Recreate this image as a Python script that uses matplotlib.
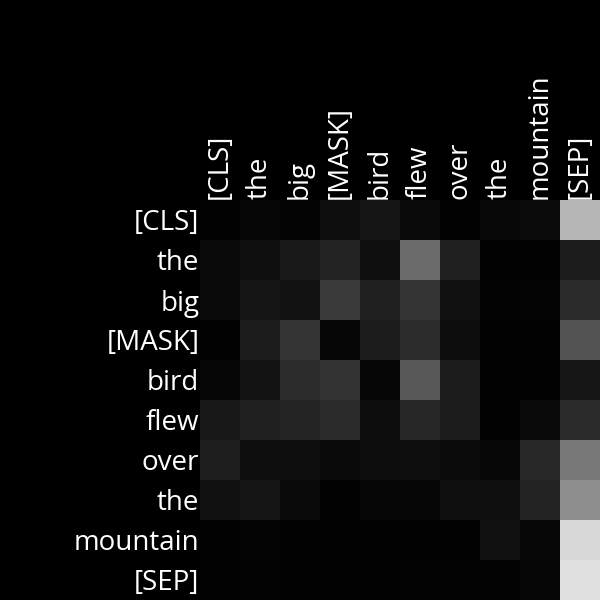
import numpy as np
import matplotlib
matplotlib.use("Agg")
import matplotlib.pyplot as plt

tokens = ["[CLS]", "the", "big", "[MASK]", "bird", "flew", "over", "the", "mountain", "[SEP]"]

# attention intensities (0-255 gray levels), row = query, col = key
row_cls      = [1, 6, 4, 14, 20, 10, 2, 8, 11, 181]
row_the      = [10, 15, 25, 34, 15, 108, 32, 1, 2, 28]
row_big      = [10, 20, 18, 58, 33, 53, 16, 3, 4, 42]
row_mask     = [1, 27, 52, 6, 28, 44, 12, 1, 1, 83]
row_bird     = [6, 19, 45, 51, 6, 88, 27, 1, 2, 22]
row_flew     = [23, 32, 37, 43, 13, 39, 28, 1, 9, 43]
row_over     = [30, 14, 14, 10, 13, 14, 11, 7, 41, 120]
row_the2     = [17, 20, 10, 1, 6, 6, 15, 15, 34, 142]
row_mountain = [1, 4, 2, 1, 1, 1, 1, 17, 7, 216]
row_sep      = [2, 3, 2, 1, 2, 3, 3, 3, 5, 224]

attn = np.array([row_cls, row_the, row_big, row_mask, row_bird, row_flew,
                 row_over, row_the2, row_mountain, row_sep]) / 255.0

plt.rcParams['font.family'] = ['Open Sans', 'DejaVu Sans']
fig = plt.figure(figsize=(6, 6), dpi=100, facecolor='black')
ax = fig.add_axes([1/3, 0, 2/3, 2/3])
ax.set_facecolor('black')
ax.imshow(attn, cmap='gray', vmin=0, vmax=1, aspect='auto', interpolation='nearest')
ax.set_xticks(range(len(tokens)))
ax.set_yticks(range(len(tokens)))
ax.set_xticklabels(tokens, rotation=90, color='white', fontsize=20)
ax.set_yticklabels(tokens, color='white', fontsize=20)
ax.xaxis.tick_top()
ax.tick_params(length=0, pad=0.5)
for s in ax.spines.values():
    s.set_visible(False)
fig.savefig('out.png', dpi=100, facecolor='black')
